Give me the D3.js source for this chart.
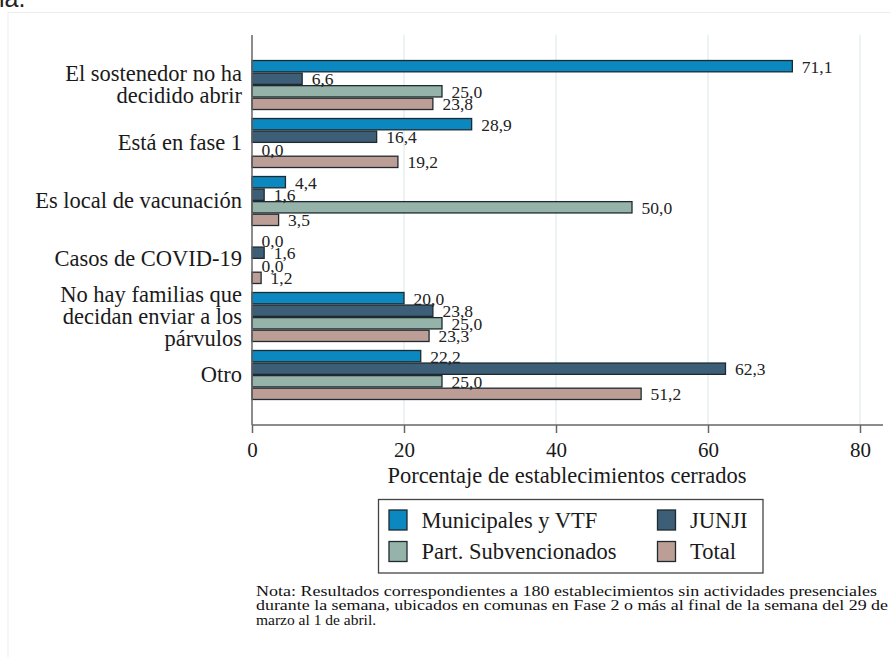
<!DOCTYPE html>
<html>
<head>
<meta charset="utf-8">
<script src="https://cdn.jsdelivr.net/npm/d3@7"></script>
<style>
  body { margin: 0; background: #fff; }
  svg { display: block; }
</style>
</head>
<body>
<div id="container"></div>
<script>
// porcentaje de establecimientos cerrados, por motivo y dependencia

const categories = [
  ["El sostenedor no ha", "decidido abrir"],
  ["Está en fase 1"],
  ["Es local de vacunación"],
  ["Casos de COVID-19"],
  ["No hay familias que", "decidan enviar a los", "párvulos"],
  ["Otro"]
]
const seriesNames = ["Municipales y VTF", "JUNJI", "Part. Subvencionados", "Total"]
const municipales = [71.1, 28.9, 4.4, 0.0, 20.0, 22.2]
const junji = [6.6, 16.4, 1.6, 1.6, 23.8, 62.3]
const partSub = [25.0, 0.0, 50.0, 0.0, 25.0, 25.0]
const total = [23.8, 19.2, 3.5, 1.2, 23.3, 51.2]
const xTicks = [0, 20, 40, 60, 80]
const noteLines = [
  "Nota: Resultados correspondientes a 180 establecimientos sin actividades presenciales",
  "durante la semana, ubicados en comunas en Fase 2 o más al final de la semana del 29 de",
  "marzo al 1 de abril."
]

const colors = ["#0a88bf", "#3d5e77", "#96b3a9", "#bd9e97"]
const serif = "'Liberation Serif', 'Times New Roman', serif"

const w = 890, h = 657
const plot = { left: 252, right: 860, top: 35, bottom: 425 }

const svg = d3.select("#container").append("svg").attr("width", w).attr("height", h)
svg.append("rect").attr("width", w).attr("height", h).attr("fill", "white")

// bit of page text above the figure and the figure's frame
svg.append("text").attr("x", -1).attr("y", 7).attr("font-family", "'Liberation Sans', Arial, sans-serif")
  .attr("font-size", 25).attr("fill", "#222").text("ia.")
svg.append("path").attr("d", `M8,${h} V12.5 H${w}`).attr("fill", "none").attr("stroke", "#ececec").attr("stroke-width", 1)

const series = [municipales, junji, partSub, total]
const rows = categories.map((c, i) => ({ i, values: series.map((s, k) => ({ k, v: s[i] })) }))

const x = d3.scaleLinear().domain([0, 80]).range([plot.left, plot.right])
const y = d3.scaleBand().domain(d3.range(categories.length)).range([plot.top, plot.bottom])
  .paddingInner(0.155).paddingOuter(0.44)
const yInner = d3.scaleBand().domain(d3.range(series.length)).range([0, y.bandwidth()]).paddingInner(0.1)

const fmt = d3.formatLocale({ decimal: ",", thousands: ".", grouping: [3], currency: ["", ""] }).format(".1f")

// gridlines
svg.append("g").selectAll("line").data(xTicks.filter(t => t > 0)).join("line")
  .attr("x1", d => x(d)).attr("x2", d => x(d)).attr("y1", plot.top).attr("y2", plot.bottom)
  .attr("stroke", "#e6eff2").attr("stroke-width", 1.5)

// bars
const groups = svg.append("g").selectAll("g").data(rows).join("g")
  .attr("transform", d => `translate(0,${y(d.i)})`)

groups.selectAll("rect").data(d => d.values.filter(e => e.v > 0)).join("rect")
  .attr("x", x(0)).attr("y", d => yInner(d.k))
  .attr("width", d => x(d.v) - x(0)).attr("height", yInner.bandwidth())
  .attr("fill", d => colors[d.k]).attr("stroke", "#1f2a30").attr("stroke-width", 1.3)

groups.selectAll("text").data(d => d.values).join("text")
  .attr("x", d => x(d.v) + 9.5).attr("y", d => yInner(d.k) + yInner.bandwidth() / 2 + 6.5)
  .attr("font-family", serif).attr("font-size", 17.5).attr("fill", "#222")
  .text(d => fmt(d.v))

// category labels
const lineH = 22
svg.append("g").selectAll("text").data(categories).join("text")
  .attr("text-anchor", "end").attr("font-family", serif).attr("font-size", 22.5).attr("fill", "#1a1a1a")
  .attr("transform", (d, i) => `translate(242,${y(i) + y.bandwidth() / 2 + 7 - (d.length - 1) * lineH / 2})`)
  .selectAll("tspan").data(d => d).join("tspan")
  .attr("x", 0).attr("y", (d, j) => j * lineH).text(d => d)

// axes
const xAxis = svg.append("g").attr("transform", `translate(0,${plot.bottom})`)
  .call(d3.axisBottom(x).tickValues(xTicks).tickSize(8).tickPadding(9).tickFormat(d3.format("d")))
xAxis.select(".domain").remove()
xAxis.selectAll(".tick line").attr("stroke", "#666").attr("stroke-width", 1.5)
xAxis.selectAll(".tick text").attr("font-family", serif).attr("font-size", 21).attr("fill", "#1a1a1a")
svg.append("line").attr("x1", plot.left).attr("x2", 883).attr("y1", plot.bottom).attr("y2", plot.bottom)
  .attr("stroke", "#666").attr("stroke-width", 1.5)
svg.append("line").attr("x1", plot.left).attr("x2", plot.left).attr("y1", plot.top).attr("y2", plot.bottom)
  .attr("stroke", "#666").attr("stroke-width", 1.5)

svg.append("text").attr("x", 567).attr("y", 483).attr("text-anchor", "middle")
  .attr("font-family", serif).attr("font-size", 22.5).attr("fill", "#1a1a1a")
  .text("Porcentaje de establecimientos cerrados")

// legend
const legend = svg.append("g")
legend.append("rect").attr("x", 378.5).attr("y", 499.5).attr("width", 384.5).attr("height", 73.5)
  .attr("fill", "white").attr("stroke", "#444").attr("stroke-width", 1.3)
const legendCols = [389, 657.5], legendRows = [520, 551.5]
const items = legend.selectAll("g.item").data(seriesNames).join("g").attr("class", "item")
  .attr("transform", (d, i) => `translate(${legendCols[i % 2]},${legendRows[Math.floor(i / 2)]})`)
items.append("rect").attr("x", 0).attr("y", -10).attr("width", 18).attr("height", 20)
  .attr("fill", (d, i) => colors[i]).attr("stroke", "#1f2a30").attr("stroke-width", 1.3)
items.append("text").attr("x", 32.5).attr("y", 7.5).attr("font-family", serif).attr("font-size", 22.5)
  .attr("fill", "#1a1a1a").text(d => d)

// note
const noteWidths = [621, 632, null]
svg.append("g").selectAll("text").data(noteLines).join("text")
  .attr("x", 256).attr("y", (d, i) => 596 + i * 14.3)
  .attr("font-family", serif).attr("font-size", 15.5).attr("fill", "#111")
  .attr("textLength", (d, i) => noteWidths[i]).attr("lengthAdjust", "spacingAndGlyphs")
  .text(d => d)
</script>
</body>
</html>
